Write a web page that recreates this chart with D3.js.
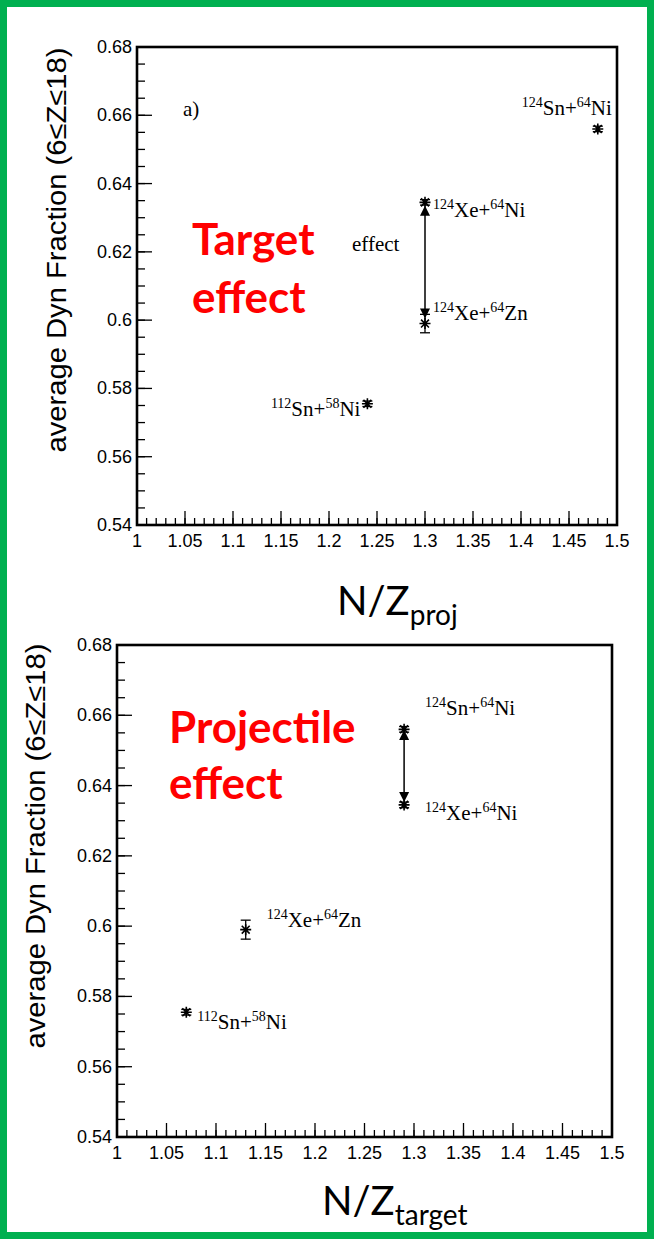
<!DOCTYPE html>
<html>
<head>
<meta charset="utf-8">
<script src="https://cdn.jsdelivr.net/npm/d3@7"></script>
<style>
  body { margin: 0; background: #fff; }
  svg { display: block; }
  .tick-label { font-family: "Liberation Sans", Arial, sans-serif; font-size: 18px; fill: #000; }
  .reaction { font-family: "Liberation Serif", "Times New Roman", serif; font-size: 21px; fill: #000; }
  .ytitle { font-family: "Liberation Sans", Arial, sans-serif; font-size: 27px; fill: #000; }
  .xtitle { font-family: Lato, "Open Sans", sans-serif; font-size: 40px; fill: #000; }
  .red { font-family: Lato, "Open Sans", sans-serif; font-weight: bold; font-size: 44px; fill: #ff0000; }
</style>
</head>
<body>
<div id="chart"></div>
<script>
// data
const reactions = ["112Sn+58Ni", "124Xe+64Zn", "124Xe+64Ni", "124Sn+64Ni"];
const dynFraction = [0.5755, 0.599, 0.6345, 0.656];
const dynError = [0.0008, 0.0027, 0.0008, 0.0008];
const nzProj = [1.24, 1.30, 1.30, 1.48];
const nzTarget = [1.07, 1.13, 1.29, 1.29];

// arrows (x, y of upper tip, y of lower tip)
const arrowProj = [1.30, 0.6335, 0.6005];
const arrowTarget = [1.29, 0.6558, 0.6353];

const yTicks = [0.54, 0.56, 0.58, 0.6, 0.62, 0.64, 0.66, 0.68];
const xTicks = [1, 1.05, 1.1, 1.15, 1.2, 1.25, 1.3, 1.35, 1.4, 1.45, 1.5];

const W = 654, H = 1239;

const svg = d3.select("#chart").append("svg")
    .attr("width", W)
    .attr("height", H);

svg.append("rect")
    .attr("x", 3.5).attr("y", 3.5)
    .attr("width", W - 7).attr("height", H - 7)
    .attr("fill", "#fff")
    .attr("stroke", "#00b050")
    .attr("stroke-width", 7);

// asterisk marker (ROOT style 3)
function star(r) {
    let d = r * 0.72;
    return "M" + (-r) + ",0h" + (2 * r) + "M0," + (-r) + "v" + (2 * r) +
        "M" + (-d) + "," + (-d) + "l" + (2 * d) + "," + (2 * d) +
        "M" + (-d) + "," + d + "l" + (2 * d) + "," + (-2 * d);
}

// "124Xe+64Ni" -> superscripted mass numbers
function addReaction(g, name, x, y, anchor) {
    let t = g.append("text").attr("class", "reaction")
        .attr("x", x).attr("y", y)
        .attr("text-anchor", anchor || "start");
    let parts = name.match(/(\d+)([A-Za-z]+\+?)/g);
    parts.forEach(p => {
        let m = p.match(/(\d+)([A-Za-z]+\+?)/);
        t.append("tspan").attr("font-size", 14).attr("dy", -8).text(m[1]);
        t.append("tspan").attr("dy", 8).text(m[2]);
    });
}

function drawPanel(cfg) {
    let g = svg.append("g");

    let x = d3.scaleLinear().domain([1, 1.5]).range([cfg.left, cfg.right]);
    let y = d3.scaleLinear().domain([0.54, 0.68]).range([cfg.bottom, cfg.top]);

    // minor ticks
    let xMinor = d3.range(0, 51).map(i => 1 + i * 0.01);
    let yMinor = d3.range(0, 29).map(i => 0.54 + i * 0.005);

    g.selectAll(".xminor").data(xMinor).enter().append("line")
        .attr("x1", d => x(d)).attr("x2", d => x(d))
        .attr("y1", cfg.bottom).attr("y2", cfg.bottom - 7)
        .attr("stroke", "#000").attr("stroke-width", 1.3);
    g.selectAll(".xmajor").data(xTicks).enter().append("line")
        .attr("x1", d => x(d)).attr("x2", d => x(d))
        .attr("y1", cfg.bottom).attr("y2", cfg.bottom - 14)
        .attr("stroke", "#000").attr("stroke-width", 1.3);
    g.selectAll(".yminor").data(yMinor).enter().append("line")
        .attr("x1", cfg.left).attr("x2", cfg.left + 8)
        .attr("y1", d => y(d)).attr("y2", d => y(d))
        .attr("stroke", "#000").attr("stroke-width", 1.3);
    g.selectAll(".ymajor").data(yTicks).enter().append("line")
        .attr("x1", cfg.left).attr("x2", cfg.left + 15)
        .attr("y1", d => y(d)).attr("y2", d => y(d))
        .attr("stroke", "#000").attr("stroke-width", 1.3);

    // frame
    g.append("rect")
        .attr("x", cfg.left).attr("y", cfg.top)
        .attr("width", cfg.right - cfg.left).attr("height", cfg.bottom - cfg.top)
        .attr("fill", "none").attr("stroke", "#000").attr("stroke-width", 2.6);

    // tick labels
    g.selectAll(".xlab").data(xTicks).enter().append("text")
        .attr("class", "tick-label")
        .attr("x", d => x(d)).attr("y", cfg.bottom + 22)
        .attr("text-anchor", "middle")
        .text(d => d3.format("")(d));
    g.selectAll(".ylab").data(yTicks).enter().append("text")
        .attr("class", "tick-label")
        .attr("x", cfg.left - 5).attr("y", d => y(d) + 6)
        .attr("text-anchor", "end")
        .text(d => d3.format("")(+d.toFixed(2)));

    // y title
    g.append("text").attr("class", "ytitle")
        .attr("transform", "translate(" + cfg.yTitleX + "," + cfg.yTitleY + ") rotate(-90)")
        .attr("text-anchor", "middle")
        .attr("textLength", 405).attr("lengthAdjust", "spacingAndGlyphs")
        .text("average Dyn Fraction (6\u2264Z\u226418)");

    // error bars
    let xs = cfg.xs;
    reactions.forEach((r, i) => {
        let px = x(xs[i]);
        let y1 = y(dynFraction[i] + dynError[i]), y2 = y(dynFraction[i] - dynError[i]);
        g.append("line").attr("x1", px).attr("x2", px).attr("y1", y1).attr("y2", y2)
            .attr("stroke", "#000").attr("stroke-width", 1.3);
        [y1, y2].forEach(yy => g.append("line")
            .attr("x1", px - 5).attr("x2", px + 5).attr("y1", yy).attr("y2", yy)
            .attr("stroke", "#000").attr("stroke-width", 1.3));
    });

    // markers
    g.selectAll(".pt").data(reactions).enter().append("path")
        .attr("transform", (d, i) => "translate(" + x(xs[i]) + "," + y(dynFraction[i]) + ")")
        .attr("d", star(5.5))
        .attr("fill", "none").attr("stroke", "#000").attr("stroke-width", 1.6);

    // double arrow
    let ax = x(cfg.arrow[0]), aTop = y(cfg.arrow[1]), aBot = y(cfg.arrow[2]);
    g.append("line").attr("x1", ax).attr("x2", ax).attr("y1", aTop + 8).attr("y2", aBot - 8)
        .attr("stroke", "#000").attr("stroke-width", 1.5);
    g.append("path")
        .attr("d", "M" + ax + "," + aTop + "l-5,10h10z")
        .attr("fill", "#000");
    g.append("path")
        .attr("d", "M" + ax + "," + aBot + "l-5,-10h10z")
        .attr("fill", "#000");

    // reaction labels
    reactions.forEach((r, i) => {
        let o = cfg.labelOffsets[i];
        addReaction(g, r, x(xs[i]) + o[0], y(dynFraction[i]) + o[1], o[2]);
    });

    return g;
}

// top panel: projectile N/Z
let projPanel = drawPanel({
    left: 137, right: 617, top: 47, bottom: 525,
    xs: nzProj, arrow: arrowProj,
    yTitleX: 66, yTitleY: 250,
    labelOffsets: [[-7, 12, "end"], [8, -4, "start"], [8, 15, "start"], [14, -14, "end"]]
});
projPanel.append("text").attr("class", "reaction")
    .attr("x", 183).attr("y", 116).attr("font-size", 18).text("a)");
projPanel.append("text").attr("class", "reaction")
    .attr("x", 352).attr("y", 251).attr("font-size", 22).text("effect");

// bottom panel: target N/Z
let targetPanel = drawPanel({
    left: 117, right: 612, top: 645, bottom: 1137,
    xs: nzTarget, arrow: arrowTarget,
    yTitleX: 45, yTitleY: 846,
    labelOffsets: [[11, 17, "start"], [21, -3, "start"], [21, 15, "start"], [21, -14, "start"]]
});

// big red annotations
svg.append("text").attr("class", "red").attr("x", 192).attr("y", 255).text("Target");
svg.append("text").attr("class", "red").attr("x", 192).attr("y", 313).text("effect");
svg.append("text").attr("class", "red").attr("x", 169).attr("y", 743).text("Projectile");
svg.append("text").attr("class", "red").attr("x", 169).attr("y", 799).text("effect");

// x titles
let t1 = svg.append("text").attr("class", "xtitle").attr("x", 337).attr("y", 615);
t1.append("tspan").text("N/Z");
t1.append("tspan").attr("font-size", 28).attr("dy", 10).text("proj");

let t2 = svg.append("text").attr("class", "xtitle").attr("x", 322).attr("y", 1215);
t2.append("tspan").text("N/Z");
t2.append("tspan").attr("font-size", 28).attr("dy", 10).text("target");
</script>
</body>
</html>
